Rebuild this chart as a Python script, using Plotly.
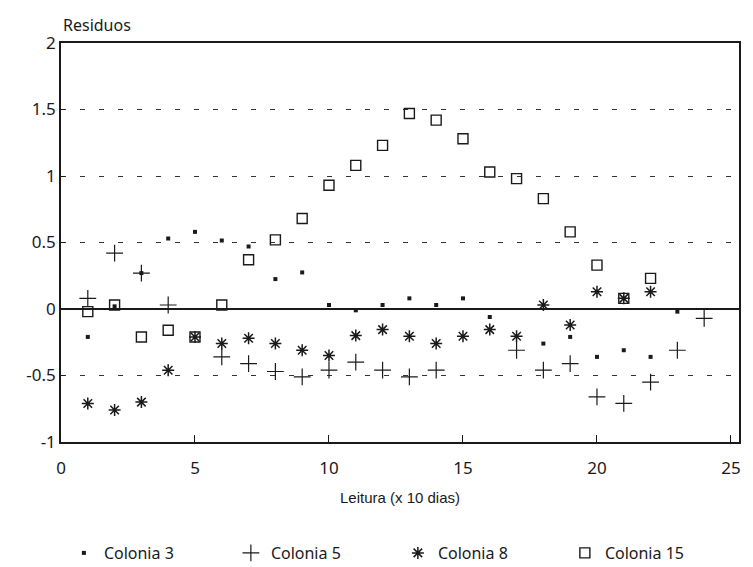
import plotly.graph_objects as go

# Leituras (x 10 dias)
leitura = list(range(1, 25))

# Residuos por colonia (None = ponto escondido / ausente)
colonia_3 = [-0.21, 0.02, 0.27, 0.53, 0.58, 0.515, 0.47, 0.225, 0.275, 0.03, -0.01, 0.03,
             0.08, 0.03, 0.08, -0.06, None, -0.26, -0.21, -0.36, -0.31, -0.36, -0.02, None]
colonia_5 = [0.08, 0.42, 0.27, 0.03, None, -0.36, -0.41, -0.47, -0.51, -0.46, -0.40, -0.46,
             -0.51, -0.46, None, None, -0.31, -0.46, -0.41, -0.66, -0.71, -0.55, -0.31, -0.07]
colonia_8 = [-0.71, -0.76, -0.70, -0.46, -0.21, -0.26, -0.22, -0.26, -0.31, -0.35, -0.20, -0.155,
             -0.205, -0.26, -0.205, -0.155, -0.205, 0.03, -0.12, 0.13, 0.08, 0.13, None, None]
colonia_15 = [-0.02, 0.03, -0.21, -0.16, -0.21, 0.03, 0.37, 0.52, 0.68, 0.93, 1.08, 1.23,
              1.47, 1.42, 1.28, 1.03, 0.98, 0.83, 0.58, 0.33, 0.08, 0.23, None, None]

x_ticks = [0, 5, 10, 15, 20, 25]
y_ticks = [-1, -0.5, 0, 0.5, 1, 1.5, 2]
y_labels = ['-1', '-0.5', '0', '0.5', '1', '1.5', '2']

ink = '#1a1a1a'

fig = go.Figure()

# each colony with its own marker
fig.add_trace(go.Scatter(x=leitura, y=colonia_3, mode='markers', name='Colonia 3',
                         marker=dict(symbol='square', size=4, color=ink)))
fig.add_trace(go.Scatter(x=leitura, y=colonia_5, mode='markers', name='Colonia 5',
                         marker=dict(symbol='cross-thin', size=12, color=ink,
                                     line=dict(width=1.2, color=ink))))
fig.add_trace(go.Scatter(x=leitura, y=colonia_8, mode='markers', name='Colonia 8',
                         marker=dict(symbol='asterisk', size=10, color=ink,
                                     line=dict(width=1.5, color=ink))))
fig.add_trace(go.Scatter(x=leitura, y=colonia_15, mode='markers', name='Colonia 15',
                         marker=dict(symbol='square-open', size=10, color=ink,
                                     line=dict(width=1.4, color=ink))))

# page body adds an 8px margin, so the figure is shifted by 8px
fig.update_layout(
    width=745, height=559,
    margin=dict(l=53, r=14, t=35, b=125),
    plot_bgcolor='white', paper_bgcolor='white',
    font=dict(family='Noto Sans', size=17, color=ink),
    legend=dict(orientation='h', xref='container', x=0.075, xanchor='left',
                yref='container', y=14 / 559, yanchor='middle',
                entrywidth=122, entrywidthmode='pixels',
                font=dict(family='Noto Sans', size=16, color=ink)),
    annotations=[dict(text='Residuos', xref='paper', yref='paper', x=0, y=1.012,
                      xanchor='left', yanchor='bottom', showarrow=False,
                      font=dict(family='Noto Sans', size=16, color=ink))],
)

fig.update_xaxes(range=[0, 25.3], tickvals=x_ticks, showgrid=False, zeroline=False,
                 showline=True, linecolor=ink, linewidth=1.5, mirror=True,
                 ticks='inside', ticklen=7, tickcolor=ink, ticklabelstandoff=10,
                 title=dict(text='Leitura (x 10 dias)', standoff=14,
                            font=dict(family='Liberation Sans', size=15, color=ink)))
fig.update_yaxes(range=[-1, 2], tickvals=y_ticks, ticktext=y_labels,
                 showgrid=True, gridcolor='#333333', gridwidth=1, griddash='5px,14px',
                 zeroline=True, zerolinecolor=ink, zerolinewidth=1.5,
                 showline=True, linecolor=ink, linewidth=1.5, mirror=True,
                 ticks='inside', ticklen=4, tickcolor=ink)

fig.write_html("out.html")
